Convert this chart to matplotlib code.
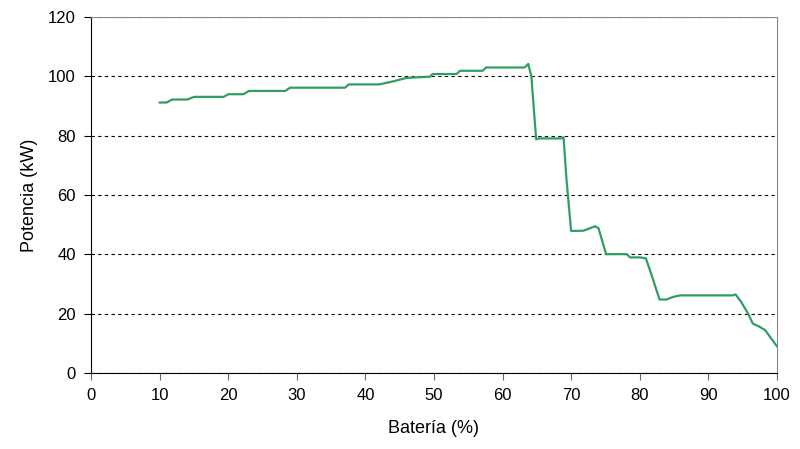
import matplotlib
matplotlib.use("Agg")
import matplotlib.pyplot as plt

plt.rcParams['font.family'] = ['Liberation Sans', 'DejaVu Sans']

# battery level (%) vs charging power (kW)
bateria = [10.0, 11.0, 11.8, 14.0, 15.0, 19.3, 20.0, 22.2, 23.0, 28.3, 29.0,
           37.0, 37.6, 42.0, 44.0, 46.0, 49.4, 49.8, 53.3, 53.8, 57.1, 57.6,
           63.2, 63.75, 64.2, 64.9, 65.3, 68.6, 68.9, 69.3, 70.0, 71.8, 73.5,
           74.0, 75.1, 75.5, 78.1, 78.6, 80.0, 80.9, 81.5, 82.9, 83.9, 84.9,
           85.9, 93.5, 94.0, 94.8, 95.8, 96.5, 97.5, 98.3, 100.0]
potencia = [91.2, 91.2, 92.2, 92.2, 93.1, 93.1, 94.0, 94.0, 95.1, 95.1, 96.2,
            96.2, 97.3, 97.3, 98.3, 99.5, 99.9, 100.8, 100.8, 101.9, 101.9, 103.0,
            103.0, 104.2, 100.0, 78.8, 79.1, 79.1, 79.5, 66.0, 47.9, 48.0, 49.5,
            48.8, 40.1, 40.1, 40.1, 39.0, 39.0, 38.7, 34.7, 24.8, 24.8, 25.7,
            26.2, 26.2, 26.5, 24.0, 20.1, 16.7, 15.6, 14.5, 9.1]

fig = plt.figure(figsize=(8, 4.49), dpi=100)
ax = fig.add_axes([0.114, 0.169, 0.857, 0.793])

ax.plot(bateria, potencia, color="#2e9e66", linewidth=1.6, zorder=3)

ax.set_xlim(0, 100)
ax.set_ylim(0, 120)
ax.set_xticks(range(0, 101, 10))
ax.set_yticks(range(0, 121, 20))
ax.yaxis.grid(True, linestyle=(0, (3, 3)), color="black", linewidth=0.8)
ax.set_axisbelow(True)

ax.spines['top'].set_color("#888888")
ax.spines['right'].set_color("#888888")
ax.spines['left'].set_color("black")
ax.spines['bottom'].set_color("black")
ax.tick_params(axis="both", labelsize=12, direction="out", length=5, pad=6)
ax.tick_params(axis="x", colors="#666666", labelcolor="black")

ax.set_xlabel("Batería (%)", fontsize=13, labelpad=12)
ax.set_ylabel("Potencia (kW)", fontsize=13, labelpad=7)

fig.savefig("out.png", dpi=100)
